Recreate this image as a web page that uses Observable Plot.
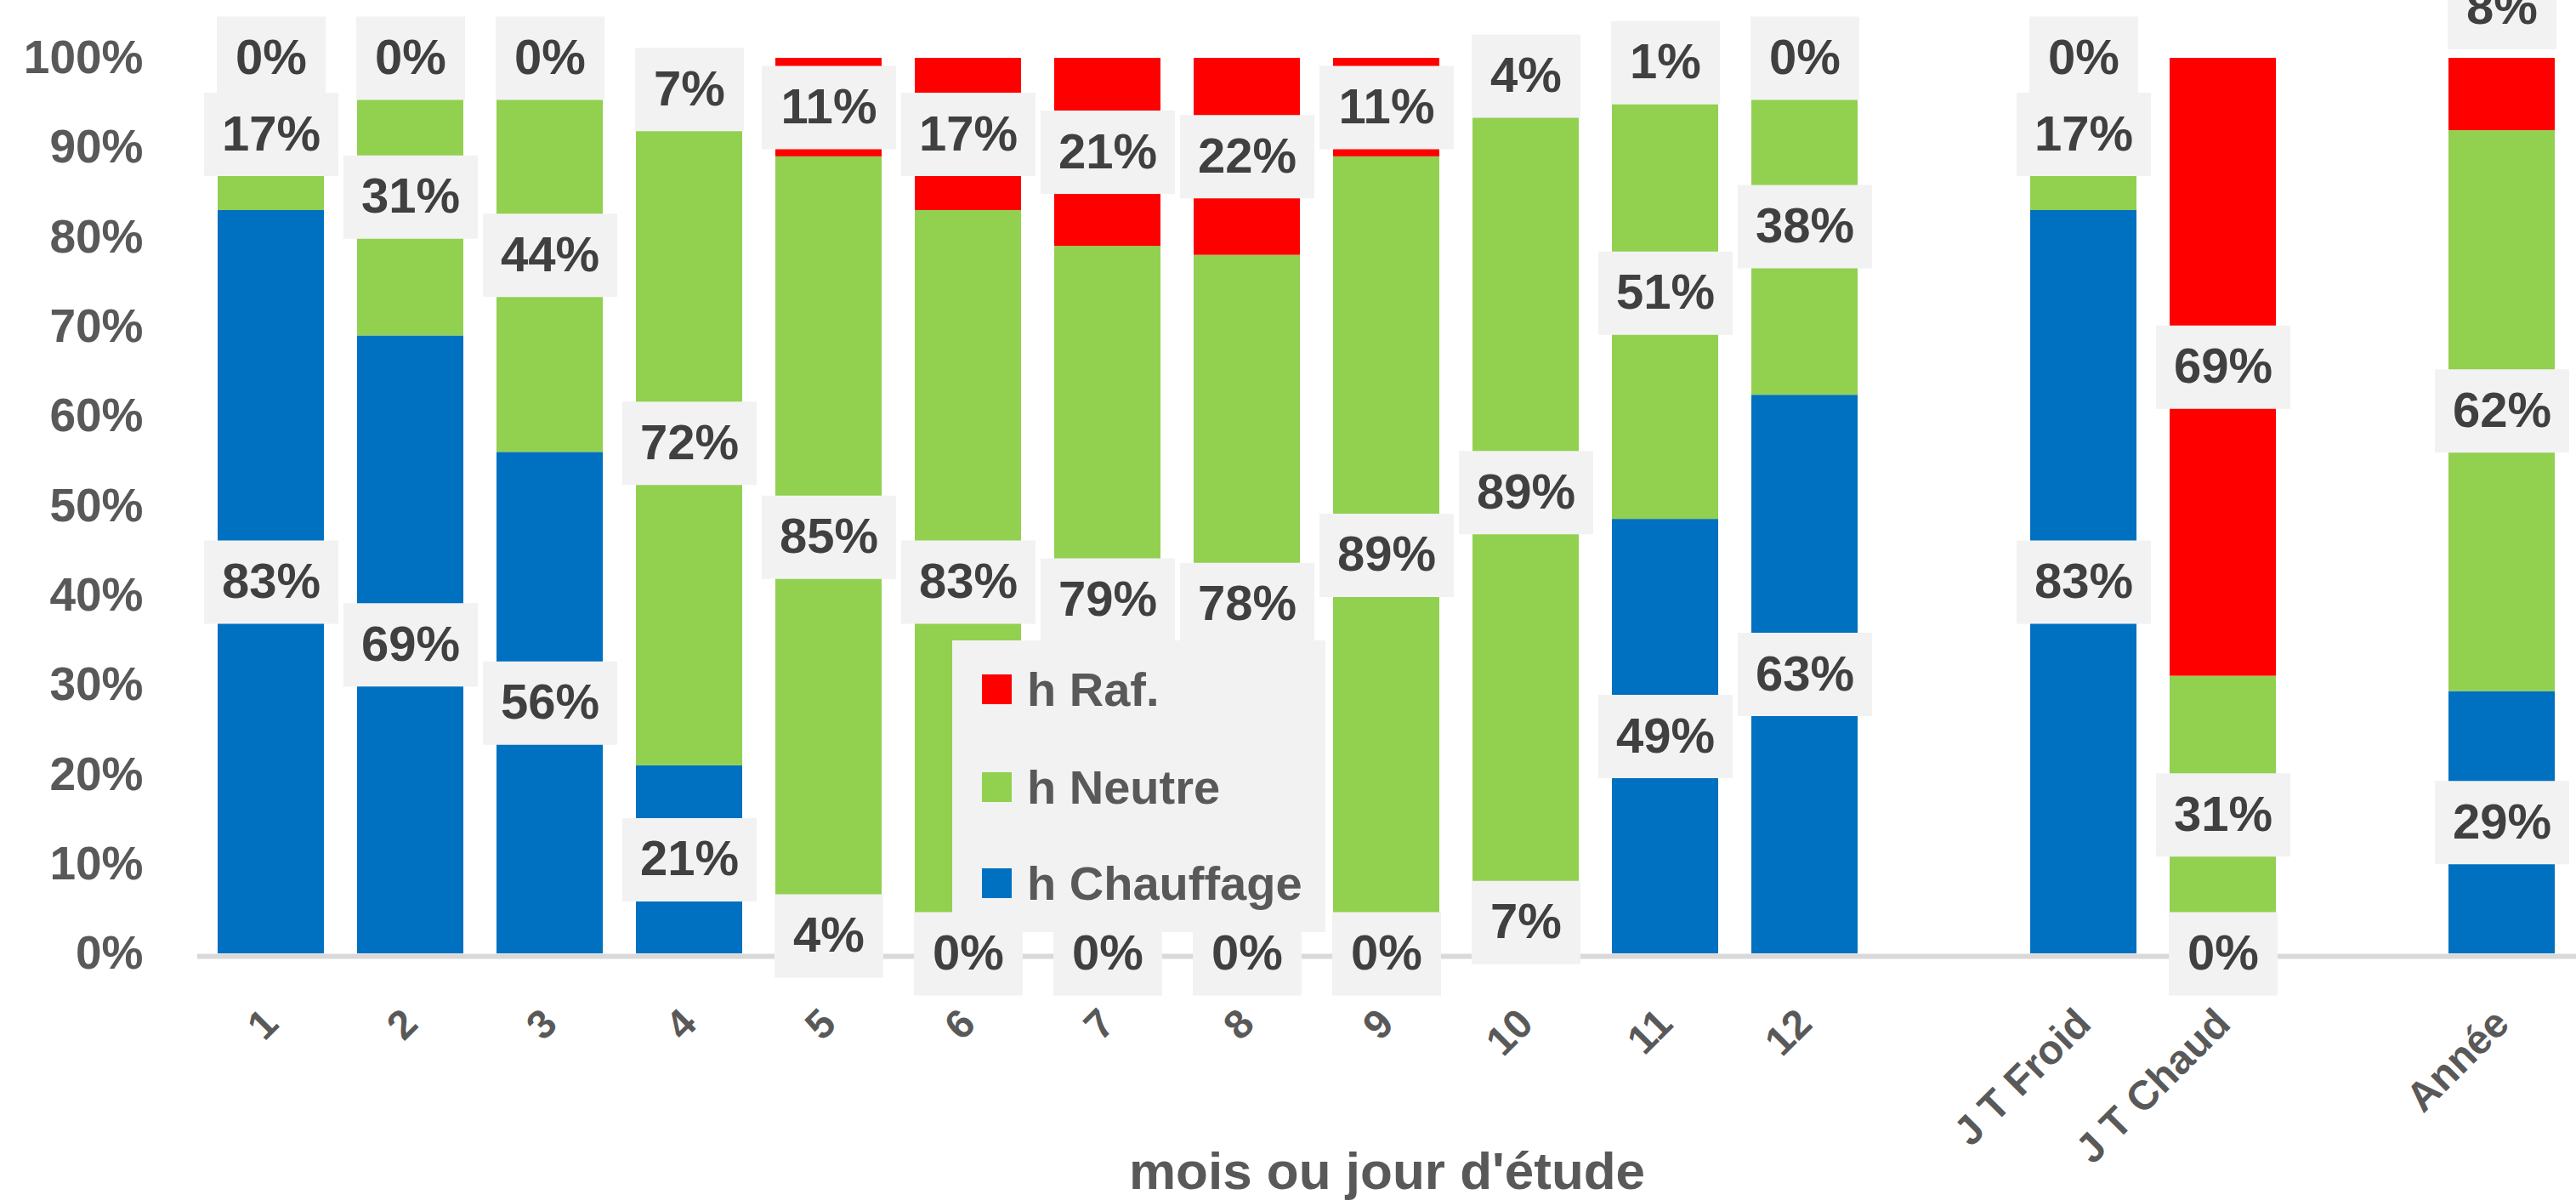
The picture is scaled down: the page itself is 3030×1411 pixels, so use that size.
<!DOCTYPE html>
<html>
<head>
<meta charset="utf-8">
<script src="https://cdn.jsdelivr.net/npm/d3@7"></script>
<script src="https://cdn.jsdelivr.net/npm/@observablehq/plot@0.6"></script>
<style>
  html, body { margin: 0; padding: 0; background: #ffffff; }
  #wrap { position: relative; width: 3030px; height: 1411px; overflow: hidden; background: #fff; }
  #legend { position: absolute; left: 1120px; top: 753px; width: 439px; height: 343px; background: #F2F2F2;
            font-family: "Liberation Sans", Arial, sans-serif; font-weight: bold; font-size: 56px; color: #595959; }
  .item { position: absolute; left: 35px; display: flex; align-items: center; height: 60px; }
  .sw { width: 35px; height: 35px; margin-right: 18px; }
</style>
</head>
<body>
<div id="wrap"></div>
<script>
// ---- data ----
const categories = ["1","2","3","4","5","6","7","8","9","10","11","12","J T Froid","J T Chaud","Année"];
const xDomain = ["1","2","3","4","5","6","7","8","9","10","11","12","gapA","J T Froid","J T Chaud","gapB","Année"];
const series = ["h Chauffage", "h Neutre", "h Raf."];
const chauffage = [83, 69, 56, 21, 4, 0, 0, 0, 0, 7, 49, 63, 83, 0, 29];
const neutre    = [17, 31, 44, 72, 85, 83, 79, 78, 89, 89, 51, 38, 17, 31, 62];
const raf       = [0, 0, 0, 7, 11, 17, 21, 22, 11, 4, 1, 0, 0, 69, 8];
const colors = ["#0070C0", "#92D050", "#FF0000"];
const yTicks = [0, 0.1, 0.2, 0.3, 0.4, 0.5, 0.6, 0.7, 0.8, 0.9, 1];
const xTitle = "mois ou jour d'étude";

const rows = [];
categories.forEach((c, i) => {
  rows.push({cat: c, series: series[0], value: chauffage[i]});
  rows.push({cat: c, series: series[1], value: neutre[i]});
  rows.push({cat: c, series: series[2], value: raf[i]});
});

const shifted = d => d.cat === "Année" && d.series === "h Raf.";
const narrow = d => String(d.value).length < 2;

function boxSymbol(w, h) {
  return {draw(ctx) {
    ctx.moveTo(-w / 2, -h / 2); ctx.lineTo(w / 2, -h / 2);
    ctx.lineTo(w / 2, h / 2); ctx.lineTo(-w / 2, h / 2); ctx.closePath();
  }};
}
const st = (o) => Plot.stackY({offset: "normalize", order: null}, {x: "cat", y: "value", z: "series", ...o});

const labelFont = {fontFamily: "Liberation Sans, Arial, sans-serif", fontWeight: "bold"};
const BOX_H = 98;

const chart = Plot.plot({
  width: 3030,
  height: 1411,
  marginLeft: 232,
  marginRight: 0,
  marginTop: 68,
  marginBottom: 290,
  style: {fontFamily: "Liberation Sans, Arial, sans-serif", background: "white", overflow: "visible"},
  x: {type: "band", domain: xDomain, paddingInner: 0.235, paddingOuter: 0.1175},
  y: {domain: [0, 1]},
  color: {domain: series, range: colors},
  opacity: {domain: [0, 1], range: [0, 1]},
  marks: [
    Plot.ruleY([0], {stroke: "#D9D9D9", strokeWidth: 6, dy: 3}),
    Plot.barY(rows, st({fill: "series"})),
    // label boxes
    Plot.dot(rows, st({symbol: boxSymbol(158, BOX_H), fill: "#F2F2F2", stroke: null,
      fillOpacity: d => (!narrow(d) && !shifted(d)) ? 1 : 0})),
    Plot.dot(rows, st({symbol: boxSymbol(128, BOX_H), fill: "#F2F2F2", stroke: null,
      fillOpacity: d => (narrow(d) && !shifted(d)) ? 1 : 0})),
    Plot.dot(rows, st({symbol: boxSymbol(128, BOX_H), fill: "#F2F2F2", stroke: null, dy: -102,
      fillOpacity: d => shifted(d) ? 1 : 0})),
    // labels
    Plot.text(rows, st({text: d => shifted(d) ? null : d.value + "%", fill: "#404040", fontSize: 58, ...labelFont})),
    Plot.text(rows, st({text: d => shifted(d) ? d.value + "%" : null, fill: "#404040", fontSize: 58, dy: -102, ...labelFont})),
    // axes
    Plot.axisY({ticks: yTicks, tickFormat: d => Math.round(d * 100) + "%", tickSize: 0, tickPadding: 64,
      fontSize: 55, fontWeight: "bold", color: "#595959", label: null}),
    Plot.axisX({ticks: categories, tickRotate: -45, tickSize: 0, tickPadding: 74,
      fontSize: 48, fontWeight: "bold", color: "#595959", label: null}),
    Plot.text([xTitle], {frameAnchor: "bottom", dy: 276, fontSize: 62, fontWeight: "bold", fill: "#595959"})
  ]
});

const wrap = document.getElementById("wrap");
wrap.appendChild(chart);

// legend (overlaid, as in the original)
const legend = document.createElement("div");
legend.id = "legend";
const legendOrder = [2, 1, 0];
const legendTops = [27, 142, 255];
legendOrder.forEach((k, j) => {
  const it = document.createElement("div");
  it.className = "item";
  it.style.top = legendTops[j] + "px";
  it.innerHTML = `<div class="sw" style="background:${colors[k]}"></div><span>${series[k]}</span>`;
  legend.appendChild(it);
});
wrap.appendChild(legend);
</script>
</body>
</html>
